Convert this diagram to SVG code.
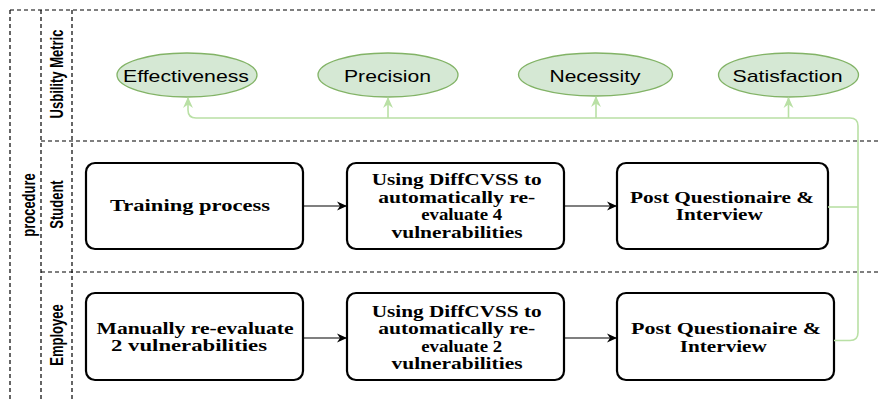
<svg xmlns="http://www.w3.org/2000/svg" width="878" height="400" viewBox="0 0 878 400">
  <style>
    .pool { fill: none; stroke: #000; stroke-width: 1.2; stroke-dasharray: 4 3; }
    .lane-label { font-family: "Liberation Sans", Arial, sans-serif; font-weight: bold; font-size: 13px; fill: #000; text-anchor: middle; dominant-baseline: central; }
    .metric { fill: #d5e8d4; stroke: #82b366; stroke-width: 1.3; }
    .metric-text { font-family: "Liberation Sans", Arial, sans-serif; font-size: 17px; fill: #000; text-anchor: middle; }
    .step { fill: #fff; stroke: #000; stroke-width: 2.2; }
    .step-text { font-family: "Liberation Serif", "Times New Roman", serif; font-weight: bold; font-size: 16px; fill: #000; text-anchor: middle; }
    .flow { fill: none; stroke: #000; stroke-width: 1.2; }
    .feedback { fill: none; stroke: #b9e0a5; stroke-width: 1.6; }
  </style>
  <defs>
    <marker id="arrow-black" viewBox="0 0 10 10" refX="9" refY="5" markerWidth="10" markerHeight="10" markerUnits="userSpaceOnUse" orient="auto">
      <path d="M0,0.5 L10,5 L0,9.5 L3,5 Z" fill="#000"/>
    </marker>
    <marker id="arrow-green" viewBox="0 0 10 10" refX="9" refY="5" markerWidth="11" markerHeight="11" markerUnits="userSpaceOnUse" orient="auto">
      <path d="M0,0.5 L10,5 L0,9.5 L3,5 Z" fill="#b9e0a5"/>
    </marker>
  </defs>

  <!-- pool and lanes -->
  <g id="pool">
    <line class="pool" x1="10" y1="10" x2="10" y2="400"/>
    <line class="pool" x1="10" y1="10" x2="878" y2="10"/>
    <line class="pool" x1="41" y1="10" x2="41" y2="400"/>
    <line class="pool" x1="72" y1="10" x2="72" y2="400"/>
    <line class="pool" x1="41" y1="141" x2="878" y2="141"/>
    <line class="pool" x1="41" y1="272" x2="878" y2="272"/>
    <text class="lane-label" transform="translate(28.5,205) scale(1.45,1) rotate(-90)">procedure</text>
  </g>
  <g id="lane-metric">
    <text class="lane-label" transform="translate(56.5,74) scale(1.45,1) rotate(-90)">Usbility Metric</text>
  </g>
  <g id="lane-student">
    <text class="lane-label" transform="translate(56.5,204.5) scale(1.45,1) rotate(-90)">Student</text>
  </g>
  <g id="lane-employee">
    <text class="lane-label" transform="translate(56.5,335) scale(1.45,1) rotate(-90)">Employee</text>
  </g>

  <!-- usability metrics -->
  <g id="effectiveness">
    <ellipse class="metric" cx="187" cy="75" rx="70" ry="22"/>
    <text class="metric-text" x="186" y="81.5" textLength="126" lengthAdjust="spacingAndGlyphs">Effectiveness</text>
  </g>
  <g id="precision">
    <ellipse class="metric" cx="388" cy="75" rx="70" ry="22"/>
    <text class="metric-text" x="387.5" y="81.5" textLength="87" lengthAdjust="spacingAndGlyphs">Precision</text>
  </g>
  <g id="necessity">
    <ellipse class="metric" cx="595.5" cy="74.5" rx="77" ry="21.5"/>
    <text class="metric-text" x="595" y="81.5" textLength="91" lengthAdjust="spacingAndGlyphs">Necessity</text>
  </g>
  <g id="satisfaction">
    <ellipse class="metric" cx="788.5" cy="75" rx="70" ry="22"/>
    <text class="metric-text" x="787.5" y="81.5" textLength="110" lengthAdjust="spacingAndGlyphs">Satisfaction</text>
  </g>

  <!-- student steps -->
  <g id="student-training">
    <rect class="step" x="86" y="163" width="217" height="86" rx="9"/>
    <text class="step-text" x="190" y="211" textLength="160" lengthAdjust="spacingAndGlyphs">Training process</text>
  </g>
  <g id="student-diffcvss">
    <rect class="step" x="347" y="163" width="217" height="86" rx="9"/>
    <text class="step-text" x="456.7" y="185" textLength="170" lengthAdjust="spacingAndGlyphs">Using DiffCVSS to</text>
    <text class="step-text" x="456.7" y="202.5" textLength="157" lengthAdjust="spacingAndGlyphs">automatically re-</text>
    <text class="step-text" x="461.7" y="220" textLength="81" lengthAdjust="spacingAndGlyphs">evaluate 4</text>
    <text class="step-text" x="457" y="237.5" textLength="131" lengthAdjust="spacingAndGlyphs">vulnerabilities</text>
  </g>
  <g id="student-post">
    <rect class="step" x="617" y="163" width="211" height="86" rx="9"/>
    <text class="step-text" x="722" y="202.5" textLength="184" lengthAdjust="spacingAndGlyphs">Post Questionaire &amp;</text>
    <text class="step-text" x="719.3" y="220" textLength="87" lengthAdjust="spacingAndGlyphs">Interview</text>
  </g>

  <!-- employee steps -->
  <g id="employee-manual">
    <rect class="step" x="86" y="293" width="217" height="87" rx="9"/>
    <text class="step-text" x="195" y="333.5" textLength="197" lengthAdjust="spacingAndGlyphs">Manually re-evaluate</text>
    <text class="step-text" x="189" y="351" textLength="156" lengthAdjust="spacingAndGlyphs">2 vulnerabilities</text>
  </g>
  <g id="employee-diffcvss">
    <rect class="step" x="347" y="293" width="217" height="87" rx="9"/>
    <text class="step-text" x="456.7" y="316.5" textLength="170" lengthAdjust="spacingAndGlyphs">Using DiffCVSS to</text>
    <text class="step-text" x="456.7" y="334" textLength="157" lengthAdjust="spacingAndGlyphs">automatically re-</text>
    <text class="step-text" x="461.7" y="351.5" textLength="81" lengthAdjust="spacingAndGlyphs">evaluate 2</text>
    <text class="step-text" x="457" y="369" textLength="131" lengthAdjust="spacingAndGlyphs">vulnerabilities</text>
  </g>
  <g id="employee-post">
    <rect class="step" x="617" y="293" width="217" height="87" rx="9"/>
    <text class="step-text" x="726" y="334" textLength="190" lengthAdjust="spacingAndGlyphs">Post Questionaire  &amp;</text>
    <text class="step-text" x="723.3" y="351.5" textLength="87" lengthAdjust="spacingAndGlyphs">Interview</text>
  </g>

  <!-- connectors -->
  <g id="connectors">
    <path class="flow" d="M303,206 H346" marker-end="url(#arrow-black)"/>
    <path class="flow" d="M564,206 H616" marker-end="url(#arrow-black)"/>
    <path class="flow" d="M303,338 H346" marker-end="url(#arrow-black)"/>
    <path class="flow" d="M564,338 H616" marker-end="url(#arrow-black)"/>

    <path class="feedback" d="M834,340.5 H850 Q858,340.5 858,332.5 V126 Q858,118 850,118 H196 Q188,118 188,110 V98" marker-end="url(#arrow-green)"/>
    <path class="feedback" d="M828,207 H858"/>
    <path class="feedback" d="M388,118 V98" marker-end="url(#arrow-green)"/>
    <path class="feedback" d="M596,118 V97" marker-end="url(#arrow-green)"/>
    <path class="feedback" d="M788.5,118 V98" marker-end="url(#arrow-green)"/>
  </g>
</svg>
